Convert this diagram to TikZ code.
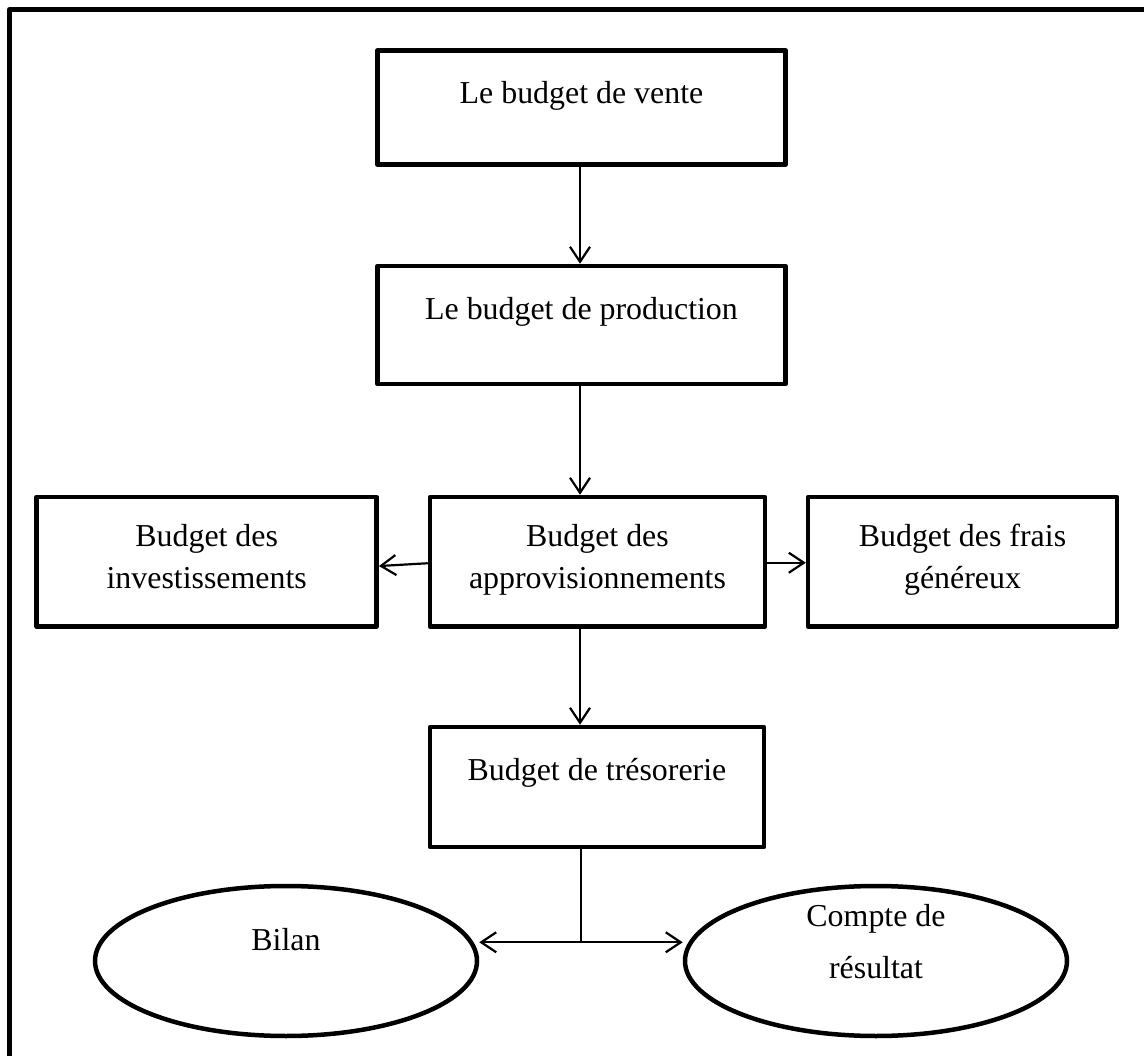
\documentclass[tikz,border=0pt]{standalone}
\usepackage{fontspec}
\setmainfont{Liberation Serif}
\usetikzlibrary{shapes.geometric,arrows.meta}
\newcommand{\twolines}[3][0pt]{\begin{tabular}[t]{@{}c@{}}#2\\[#1]#3\end{tabular}}
\begin{document}
\begin{tikzpicture}[x=1pt,y=-1pt,
  txt/.style={font=\fontsize{31.9}{41.6}\selectfont},
  stepbox/.style={txt, draw, rectangle, line width=4.5pt, line join=round,
    inner sep=0pt, anchor=base},
  oval/.style={txt, draw, ellipse, line width=4.5pt, inner sep=0pt,
    minimum width=382pt, minimum height=150pt, text height=10pt},
  link/.style={line width=2.2pt,
    -{Straight Barb[length=15pt,width=20pt,line width=2.2pt]}},
  plain/.style={line width=2.2pt},
  frame/.style={line width=5pt, line join=round}]
  \useasboundingbox (0,0) rectangle (1144,1056);

  % outer frame (top and left edges)
  \draw[frame] (9.5,1070) -- (9.5,9.5) -- (1160,9.5);

  % budget boxes
  \node[stepbox, minimum width=408pt, text height=52.8pt, text depth=61.2pt]
    (vente) at (581.5,103.3) {Le budget de vente};
  \node[stepbox, minimum width=408pt, text height=53.5pt, text depth=64.5pt]
    (prod) at (581.5,319.5) {Le budget de production};
  \node[stepbox, minimum width=340pt, text height=49.7pt, text depth=79.8pt]
    (invest) at (206.7,546.7) {\twolines{Budget des}{investissements}};
  \node[stepbox, minimum width=335pt, text height=49.7pt, text depth=79.8pt]
    (appro) at (597.5,546.7) {\twolines{Budget des}{approvisionnements}};
  \node[stepbox, minimum width=309pt, text height=49.7pt, text depth=79.8pt]
    (frais) at (962.5,546.7) {\twolines{Budget des frais}{généreux}};
  \node[stepbox, minimum width=334pt, text height=53pt, text depth=67pt]
    (treso) at (597,780) {Budget de trésorerie};

  % final statements
  \node[oval, text depth=32pt] (bilan) at (286,961) {Bilan};
  \node[oval, text depth=80pt] (compte) at (876,961)
    {\twolines[11pt]{Compte de}{résultat}};

  % connectors
  \draw[link] ([xshift=-1.5pt]vente.south) -- ([xshift=-1.5pt]prod.north);
  \draw[link] ([xshift=-1.5pt]prod.south) -- ([xshift=-1.5pt]prod.south |- appro.north);
  \draw[link] ([yshift=-1.5pt]appro.west) -- ([yshift=-4.3pt]invest.east);
  \draw[link] ([yshift=-1pt]appro.east) -- ([yshift=-1pt]frais.west);
  \draw[link] ([xshift=-17.5pt]appro.south) -- ([xshift=-17.5pt]appro.south |- treso.north);
  \coordinate (split) at (580.7,942.3);
  \draw[plain] (treso.south -| split) -- (split);
  \draw[link] (split) -- (split -| bilan.east);
  \draw[link] (split) -- (split -| compte.west);
\end{tikzpicture}
\end{document}
